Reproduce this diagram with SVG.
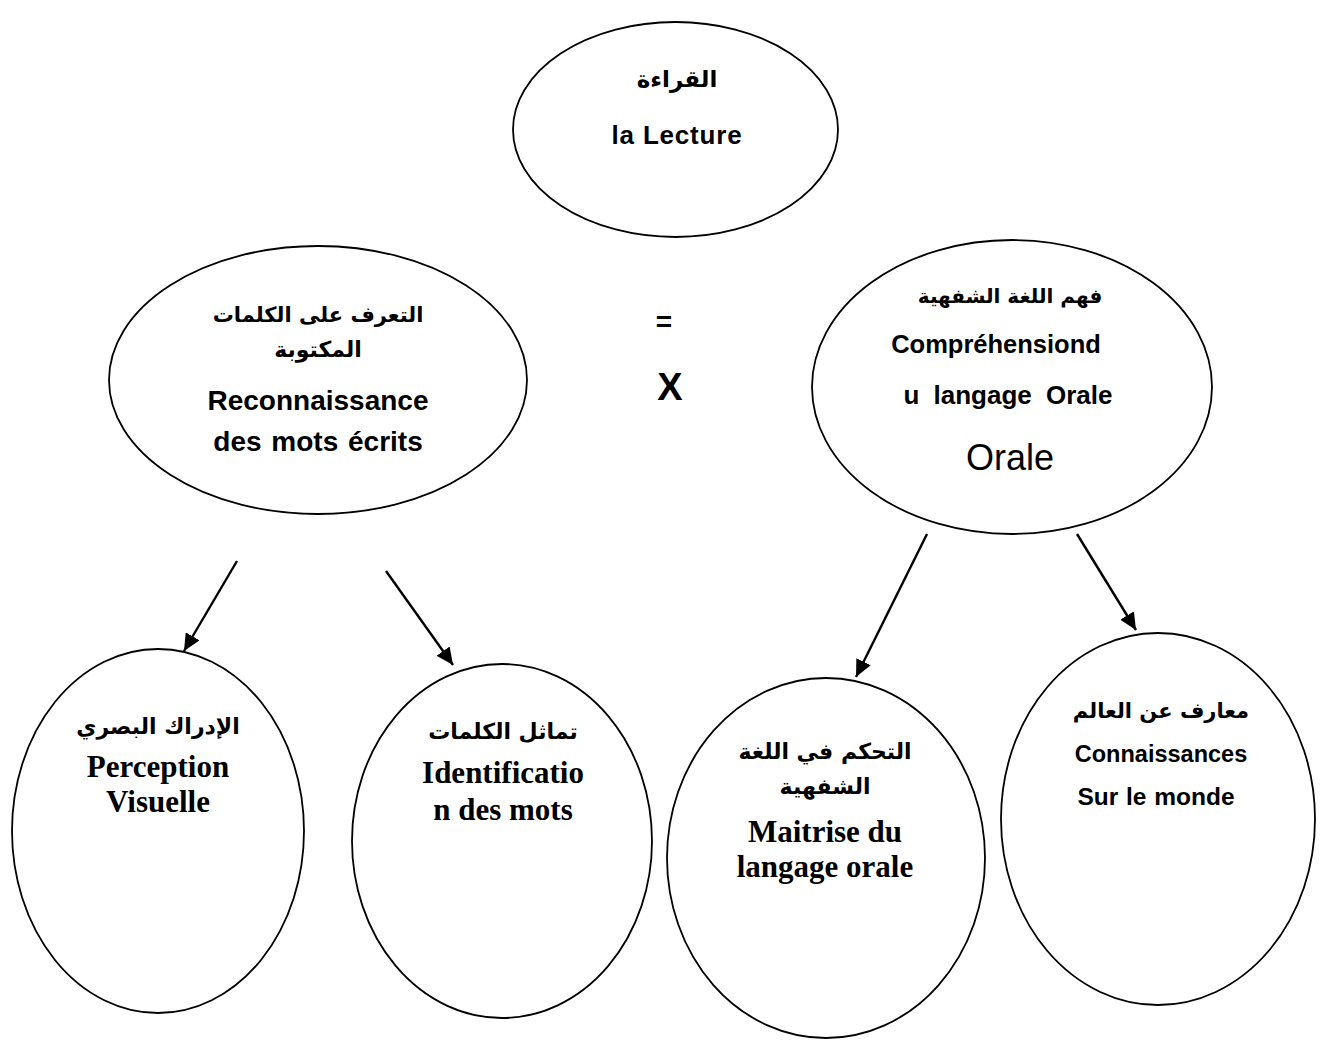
<svg xmlns="http://www.w3.org/2000/svg" width="1320" height="1041" viewBox="0 0 1320 1041">
  <style>
    .node { fill: #ffffff; stroke: #000000; stroke-width: 1.8; }
    .ar { font-family: "DejaVu Sans", "Noto Sans", sans-serif; font-weight: bold; text-anchor: middle; fill: #000; }
    .sans { font-family: "Liberation Sans", Arial, sans-serif; font-weight: bold; text-anchor: middle; fill: #000; }
    .serif { font-family: "Liberation Serif", "Times New Roman", serif; font-weight: bold; text-anchor: middle; fill: #000; font-size: 31px; }
    .link { stroke: #000000; stroke-width: 2.4; fill: none; marker-end: url(#head); }
  </style>
  <defs>
    <marker id="head" markerUnits="userSpaceOnUse" markerWidth="18" markerHeight="16" refX="17" refY="8" orient="auto">
      <path d="M0,0 L17,8 L0,16 Z" fill="#000"/>
    </marker>
  </defs>

  <rect width="1320" height="1041" fill="#ffffff"/>

  <!-- top: reading -->
  <g id="lecture">
    <ellipse class="node" cx="675.5" cy="129.5" rx="162.5" ry="107.5"/>
    <text class="ar" x="677" y="87" font-size="23">القراءة</text>
    <text class="sans" x="677" y="144" font-size="26" letter-spacing="0.8">la Lecture</text>
  </g>

  <!-- word recognition -->
  <g id="reconnaissance">
    <ellipse class="node" cx="318" cy="380" rx="209" ry="134"/>
    <text class="ar" x="318" y="322" font-size="21">التعرف على الكلمات</text>
    <text class="ar" x="318" y="357" font-size="22">المكتوبة</text>
    <text class="sans" x="318" y="410" font-size="28">Reconnaissance</text>
    <text class="sans" x="318" y="451" font-size="28" word-spacing="2">des mots écrits</text>
  </g>

  <!-- operators between the two components -->
  <g id="operators">
    <text class="sans" x="664" y="331" font-size="28">=</text>
    <text class="sans" x="670" y="400" font-size="38">X</text>
  </g>

  <!-- oral language comprehension -->
  <g id="comprehension">
    <ellipse class="node" cx="1012" cy="387" rx="200" ry="147"/>
    <text class="ar" x="1010" y="303" font-size="20">فهم اللغة الشفهية</text>
    <text class="sans" x="996" y="353" font-size="25.5">Compréhensiond</text>
    <text class="sans" x="1008" y="404" font-size="26" word-spacing="7">u langage Orale</text>
    <text x="1010" y="470" font-family="Liberation Sans, Arial, sans-serif" font-size="36" text-anchor="middle" fill="#000">Orale</text>
  </g>

  <!-- visual perception -->
  <g id="perception">
    <ellipse class="node" cx="158" cy="831" rx="146" ry="182"/>
    <text class="ar" x="158" y="734" font-size="22">الإدراك البصري</text>
    <text class="serif" x="158" y="777">Perception</text>
    <text class="serif" x="158" y="812">Visuelle</text>
  </g>

  <!-- word identification -->
  <g id="identification">
    <ellipse class="node" cx="502" cy="841" rx="150" ry="177"/>
    <text class="ar" x="503" y="739" font-size="22">تماثل الكلمات</text>
    <text class="serif" x="503" y="783">Identificatio</text>
    <text class="serif" x="503" y="820">n des mots</text>
  </g>

  <!-- oral language mastery -->
  <g id="maitrise">
    <ellipse class="node" cx="826" cy="858" rx="159" ry="180"/>
    <text class="ar" x="825" y="759" font-size="22">التحكم في اللغة</text>
    <text class="ar" x="825" y="794" font-size="22">الشفهية</text>
    <text class="serif" x="825" y="842">Maitrise du</text>
    <text class="serif" x="825" y="877">langage orale</text>
  </g>

  <!-- world knowledge -->
  <g id="connaissances">
    <ellipse class="node" cx="1158" cy="819" rx="157" ry="186"/>
    <text class="ar" x="1161" y="718" font-size="21">معارف عن العالم</text>
    <text class="sans" x="1161" y="762" font-size="23.5">Connaissances</text>
    <text class="sans" x="1156" y="805" font-size="24.5" word-spacing="1">Sur le monde</text>
  </g>

  <!-- arrows -->
  <g id="connectors">
    <line class="link" x1="237" y1="561" x2="184" y2="651"/>
    <line class="link" x1="386" y1="571" x2="453" y2="665"/>
    <line class="link" x1="927" y1="534" x2="856" y2="677"/>
    <line class="link" x1="1077" y1="534" x2="1136" y2="630"/>
  </g>
</svg>
